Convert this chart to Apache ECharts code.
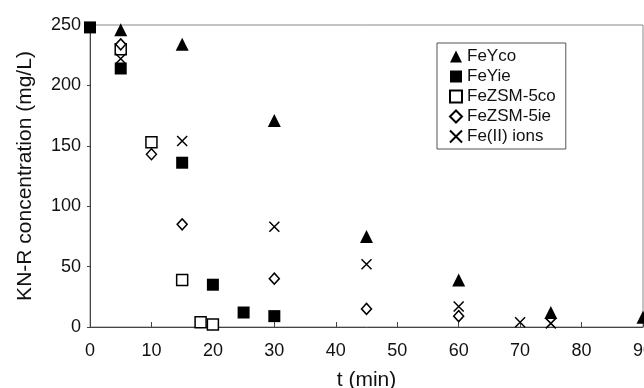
<!DOCTYPE html>
<html>
<head>
<meta charset="utf-8">
<script src="https://cdn.jsdelivr.net/npm/echarts@6/dist/echarts.min.js"></script>
<style>
  html, body { margin: 0; padding: 0; background: #fff; }
  #mainChart { width: 644px; height: 388px; }
</style>
</head>
<body>
<div id="mainChart"></div>
<script>
// KN-R concentration (mg/L) vs t (min)
var feYco = [[5, 246], [15, 234], [30, 171], [45, 75], [60, 39], [75, 12], [90, 8]];
var feYie = [[0, 248], [5, 214], [15, 136], [20, 35], [25, 12], [30, 9]];
var feZsmCo = [[5, 230], [10, 153], [15, 39], [18, 4], [20, 2]];
var feZsmIe = [[5, 234], [10, 143], [15, 85], [30, 40], [45, 15], [60, 9]];
var fe2Ions = [[5, 222], [15, 154], [30, 83], [45, 52], [60, 17], [70, 4], [75, 3]];

var seriesNames = ['FeYco', 'FeYie', 'FeZSM-5co', 'FeZSM-5ie', 'Fe(II) ions'];
var xTicks = {min: 0, max: 90, interval: 10};
var yTicks = {min: 0, max: 250, interval: 50};

var font = '"Liberation Sans", Arial, sans-serif';
var crossPath = 'path://M0,0L10,10M10,0L0,10';

var option = {
  animation: false,
  backgroundColor: '#fff',
  textStyle: {fontFamily: font},
  grid: {
    left: 90,
    right: 1,
    top: 25,
    bottom: 61,
    outerBoundsMode: 'none',   // v6 would otherwise pull the grid in to fit "90"
    containLabel: false,
    show: true,
    borderColor: '#888',
    borderWidth: 1
  },
  legend: {
    orient: 'vertical',
    left: 437,
    top: 43,
    data: seriesNames,
    backgroundColor: '#fff',
    borderColor: '#555',
    borderWidth: 1,
    borderRadius: 0,
    padding: [5, 10, 4, 12],
    itemWidth: 12,
    itemHeight: 12,
    itemGap: 3,
    textStyle: {fontFamily: font, fontSize: 17, color: '#111'}
  },
  xAxis: {
    type: 'value',
    min: xTicks.min,
    max: xTicks.max,
    interval: xTicks.interval,
    name: 't (min)',
    nameLocation: 'middle',
    nameGap: 43,
    nameTextStyle: {fontFamily: font, fontSize: 21, color: '#111'},
    axisLine: {show: true, lineStyle: {color: '#444', width: 1}},
    axisTick: {show: true, inside: true, length: 5, lineStyle: {color: '#444'}},
    axisLabel: {fontFamily: font, fontSize: 18, color: '#111', margin: 15, showMaxLabel: true},
    splitLine: {show: false}
  },
  yAxis: {
    type: 'value',
    min: yTicks.min,
    max: yTicks.max,
    interval: yTicks.interval,
    name: 'KN-R concentration (mg/L)',
    nameLocation: 'middle',
    nameGap: 54,
    nameRotate: 90,
    nameTextStyle: {fontFamily: font, fontSize: 21, color: '#111'},
    axisLine: {show: true, lineStyle: {color: '#444', width: 1}},
    axisTick: {show: true, inside: false, length: 3, lineStyle: {color: '#444'}},
    axisLabel: {fontFamily: font, fontSize: 18, color: '#111', margin: 9},
    splitLine: {show: false}
  },
  series: [
    {
      name: 'FeYco',
      type: 'scatter',
      data: feYco,
      symbol: 'triangle',
      symbolSize: 13,
      clip: false,
      itemStyle: {color: '#000', opacity: 1}
    },
    {
      name: 'FeYie',
      type: 'scatter',
      data: feYie,
      symbol: 'rect',
      symbolSize: 12,
      clip: false,
      itemStyle: {color: '#000', opacity: 1}
    },
    {
      name: 'FeZSM-5co',
      type: 'scatter',
      data: feZsmCo,
      symbol: 'rect',
      symbolSize: 11,
      clip: false,
      itemStyle: {color: '#fff', borderColor: '#000', borderWidth: 1.5, opacity: 1}
    },
    {
      name: 'FeZSM-5ie',
      type: 'scatter',
      data: feZsmIe,
      symbol: 'diamond',
      symbolSize: [10, 11],
      clip: false,
      itemStyle: {color: '#fff', borderColor: '#000', borderWidth: 1.5, opacity: 1}
    },
    {
      name: 'Fe(II) ions',
      type: 'scatter',
      data: fe2Ions,
      symbol: crossPath,
      symbolSize: 10,
      clip: false,
      itemStyle: {color: '#000', borderColor: '#000', borderWidth: 1.5, opacity: 1}
    }
  ]
};

var myChart = echarts.init(document.getElementById('mainChart'), null, {renderer: 'canvas'});
myChart.setOption(option);
window.onresize = function () {
  if (myChart) {
    myChart.resize();
  }
};
</script>
</body>
</html>
